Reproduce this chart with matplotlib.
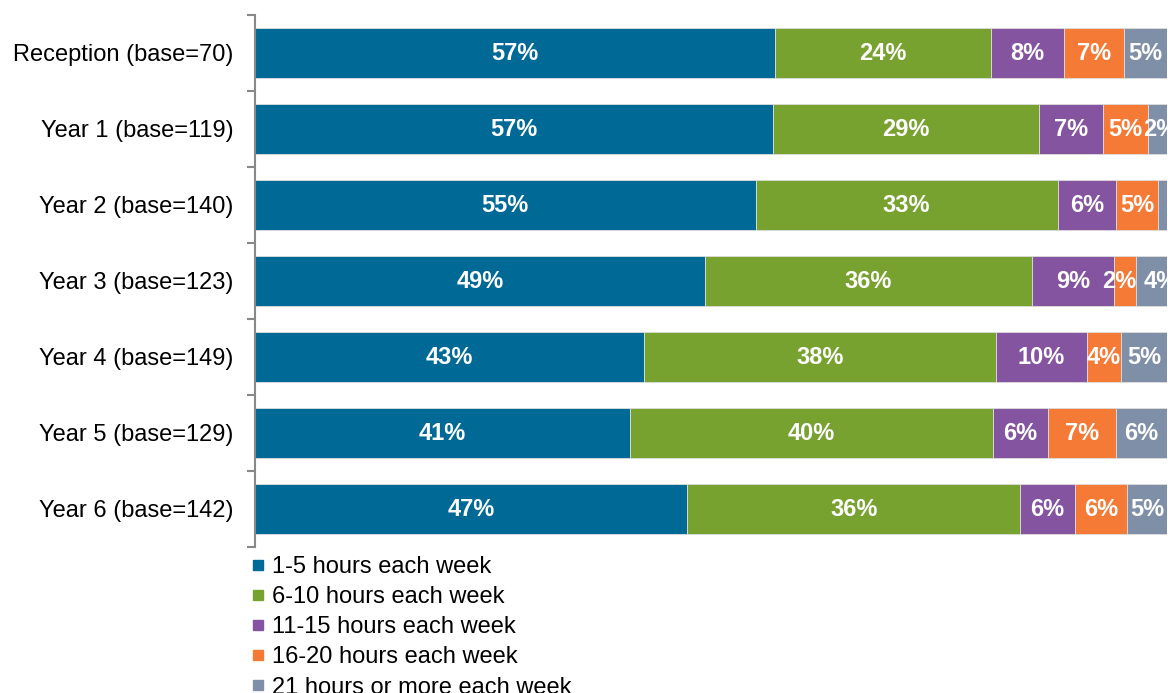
import matplotlib.pyplot as plt
from matplotlib.lines import Line2D
import numpy as np

plt.rcParams['font.family'] = ['Liberation Sans', 'DejaVu Sans']

groups = ["Reception (base=70)", "Year 1 (base=119)", "Year 2 (base=140)",
          "Year 3 (base=123)", "Year 4 (base=149)", "Year 5 (base=129)",
          "Year 6 (base=142)"]
series = ["1-5 hours each week", "6-10 hours each week", "11-15 hours each week",
          "16-20 hours each week", "21 hours or more each week"]

# widths, labels as printed
h_1_5 = [57.0, 56.8, 54.9, 49.3, 42.7, 41.1, 47.4]
h_6_10 = [23.7, 29.2, 33.1, 35.9, 38.5, 39.8, 36.5]
h_11_15 = [8.0, 7.0, 6.4, 9.0, 10.0, 6.0, 6.0]
h_16_20 = [6.6, 4.9, 4.6, 2.4, 3.8, 7.5, 5.7]
h_21 = [4.7, 2.1, 1.0, 3.4, 5.0, 5.6, 4.4]

lab_1_5 = [57, 57, 55, 49, 43, 41, 47]
lab_6_10 = [24, 29, 33, 36, 38, 40, 36]
lab_11_15 = [8, 7, 6, 9, 10, 6, 6]
lab_16_20 = [7, 5, 5, 2, 4, 7, 6]
lab_21 = [5, 2, None, 4, 5, 6, 5]

colors = ["#006996", "#78A22F", "#8454A0", "#F47A36", "#7F8FA8"]

vals = [h_1_5, h_6_10, h_11_15, h_16_20, h_21]
labs = [lab_1_5, lab_6_10, lab_11_15, lab_16_20, lab_21]

# small sideways nudges (in % units) for crowded labels: (series, row) -> shift
nudge = {(3, 3): -0.6, (4, 3): 1.0, (4, 1): 0.3}

fig = plt.figure(figsize=(11.68, 6.93), dpi=100)
ax = fig.add_axes([255 / 1168, 1 - 547 / 693, 912 / 1168, 532 / 693])

y = np.arange(len(groups))
left = np.zeros(len(groups))
for k, (v, lb, c) in enumerate(zip(vals, labs, colors)):
    v = np.array(v)
    ax.barh(y, v, left=left, height=0.66, color=c, edgecolor="#DDDDDD", linewidth=0.6)
    for i in range(len(groups)):
        if lb[i] is not None:
            xc = left[i] + v[i] / 2 + nudge.get((k, i), 0)
            ax.text(xc, y[i], f"{lb[i]}%", ha="center", va="center",
                    color="white", fontsize=17, fontweight="bold", clip_on=False)
    left += v

ax.set_xlim(0, 100)
ax.set_ylim(len(groups) - 0.5, -0.5)
ax.set_yticks(y)
ax.set_yticklabels(groups, fontsize=17)
ax.set_yticks(np.arange(len(groups) + 1) - 0.5, minor=True)
ax.tick_params(axis="y", which="major", length=0, pad=15.5)
ax.tick_params(axis="y", which="minor", length=6, color="#888888", width=1.5)
ax.set_xticks([])
for s in ["top", "right", "bottom"]:
    ax.spines[s].set_visible(False)
ax.spines["left"].set_color("#888888")
ax.spines["left"].set_linewidth(1.5)

handles = [Line2D([], [], marker="s", linestyle="none", markersize=7.5,
                  markerfacecolor=c, markeredgecolor=c) for c in colors]
fig.legend(handles, series, loc="upper left", bbox_to_anchor=(251 / 1168, 1 - 556 / 693),
           frameon=False, fontsize=17, handlelength=0.6, handletextpad=0.3,
           labelspacing=0.345, borderpad=0, borderaxespad=0)

fig.savefig("out.png", dpi=100)
